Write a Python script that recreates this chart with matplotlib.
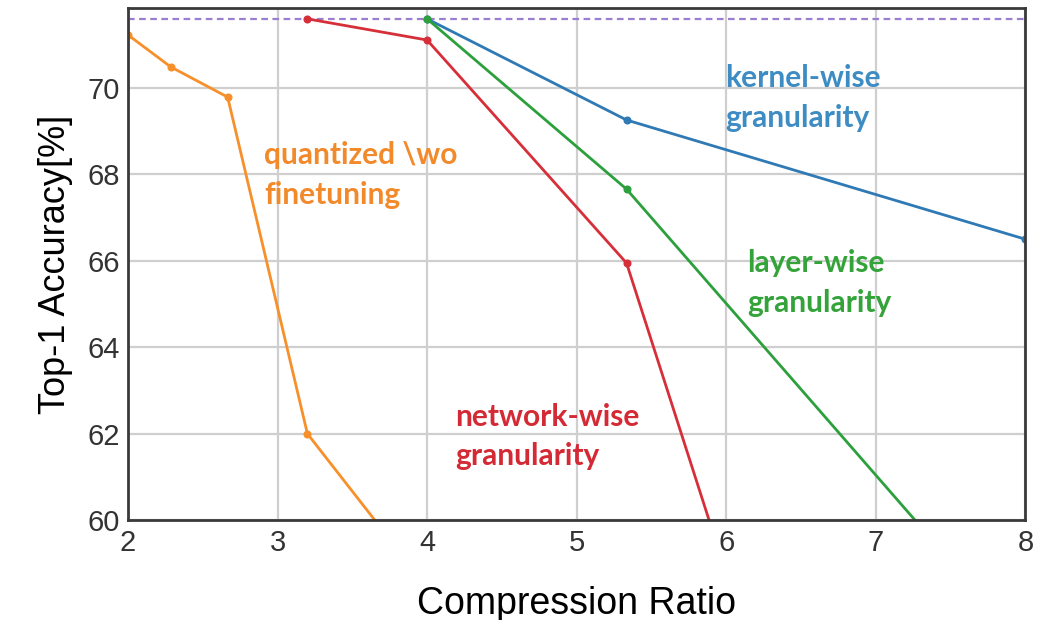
import matplotlib.pyplot as plt
import numpy as np

plt.rcParams['font.family'] = ['Liberation Sans', 'DejaVu Sans']

# compression ratio = 32 / bit width
ratio_fp = [2, 32 / 14, 32 / 12, 32 / 10, 4]
acc_nofinetune = [71.23, 70.49, 69.79, 62.0, 58.45]

ratio_net = [32 / 10, 4, 32 / 6, 8]
acc_network = [71.6, 71.11, 65.95, 37.2]

ratio_q = [4, 32 / 6, 8]
acc_layer = [71.6, 67.66, 57.07]
acc_kernel = [71.6, 69.26, 66.5]

baseline = 71.6

fig = plt.figure(figsize=(10.4, 6.2), dpi=100)
ax = fig.add_axes([0.123, 0.161, 0.863, 0.826])

line_kw = dict(lw=2.0, marker='o', ms=4.8, clip_on=True)
ax.plot(ratio_fp, acc_nofinetune, color='#f7902a', **line_kw)
ax.plot(ratio_net, acc_network, color='#d62f3a', **line_kw)
ax.plot(ratio_q, acc_kernel, color='#2f7ab5', **line_kw)
ax.plot(ratio_q, acc_layer, color='#2ca03c', **line_kw)
ax.axhline(baseline, color='#9a7fd0', lw=1.6, ls=(0, (3, 2)), zorder=1)

ax.set_xlim(2, 8)
ax.set_ylim(60, 71.85)
ax.set_xticks(np.arange(2, 9, 1))
ax.set_yticks(np.arange(60, 71, 2))
ax.grid(True, color='#cfcfcf', lw=1.6)
ax.set_axisbelow(True)
ax.tick_params(length=0, pad=6, labelsize=21, labelcolor='#333333')
for s in ax.spines.values():
    s.set_color('#3a3a3a')
    s.set_linewidth(2)

ax.set_xlabel('Compression Ratio', fontsize=27, labelpad=21)
ax.set_ylabel('Top-1 Accuracy[%]', fontsize=26, labelpad=10)

note_kw = dict(fontsize=21.5, fontweight='bold', family=['Lato', 'DejaVu Sans'],
               ha='left', va='center', linespacing=1.5)
ax.text(2.91, 67.99, 'quantized \\wo\nfinetuning', color='#f28a2c', **note_kw)
ax.text(5.99, 69.77, 'kernel-wise\ngranularity', color='#3d8cc4', **note_kw)
ax.text(6.14, 65.49, 'layer-wise\ngranularity', color='#33a33a', **note_kw)
ax.text(4.19, 61.94, 'network-wise\ngranularity', color='#d42a35', **note_kw)

fig.savefig('out.png', dpi=100)
